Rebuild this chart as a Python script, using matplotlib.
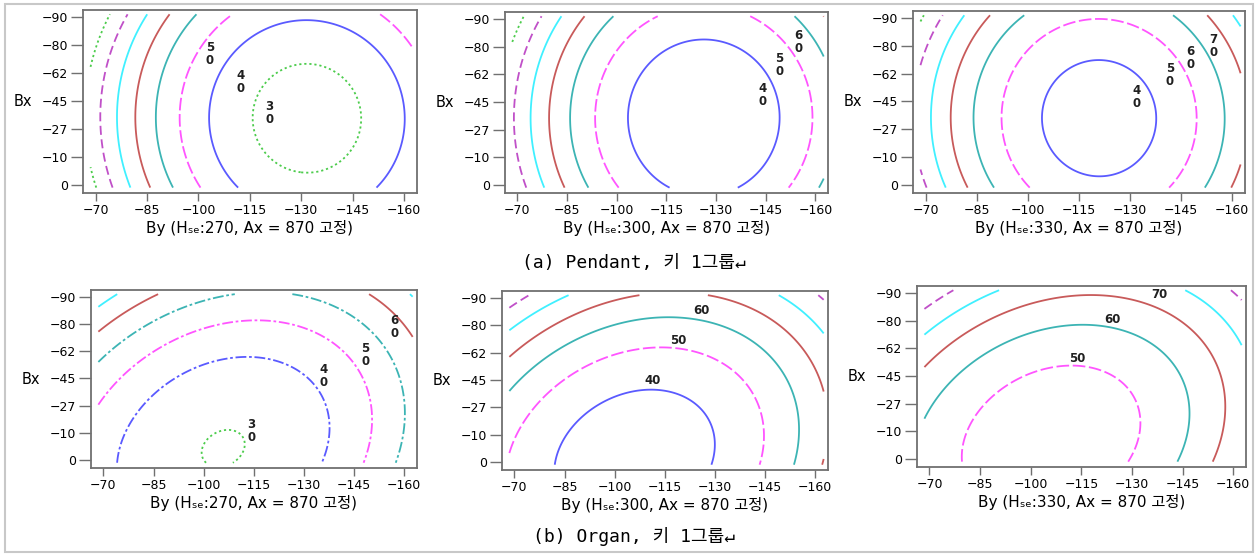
import numpy as np
import matplotlib
matplotlib.use("Agg")
import matplotlib.pyplot as plt
from matplotlib.patches import Rectangle

# contour levels and how each one is drawn
levels = [30, 40, 50, 60, 70, 80, 90, 100]
level_colors = ['#4ccc4c', '#5a5aff', '#ff55ff', '#3cb4b4', '#c85a5a', '#40f0ff', '#c050c8', '#4ccc4c']
level_styles = [(0, (1.2, 1.6)), 'solid', (0, (7, 2)), 'solid', 'solid', 'solid', (0, (5, 2.5)), (0, (1.2, 1.6))]
dashdot = (0, (6, 1.5, 1.5, 1.5))

x_ticks = [-70, -85, -100, -115, -130, -145, -160]
y_ticks = [0, -15, -30, -45, -60, -75, -90]
y_tick_labels = ['0', '−10', '−27', '−45', '−62', '−80', '−90']

h_se = [270, 300, 330, 270, 300, 330]
captions = ['(a) Pendant, 키 1그룹↵', '(b) Organ, 키 1그룹↵']

# points: (level, By, Bx)
pendant_270 = [
    (30, -115.6, -38.3), (30, -147.5, -36.6), (30, -131.3, -65.4), (30, -130.3, -5.9),
    (40, -102.8, -40.1), (40, -160.2, -31.2), (40, -129.8, -88.6), (40, -111.2, 0.9),
    (40, -151.9, 0.9), (40, -110.2, -66.8),
    (50, -95.0, -40.1), (50, -100.4, 0.0), (50, -109.2, -90.9), (50, -153.3, -90.9), (50, -162.2, -74.9),
    (60, -87.6, -40.1), (60, -92.1, 0.9), (60, -99.4, -90.9),
    (70, -81.6, -40.1), (70, -85.7, 0.9), (70, -91.6, -90.9),
    (80, -75.9, -40.1), (80, -79.8, 0.9), (80, -84.2, -90.9),
    (90, -71.0, -40.1), (90, -74.9, 0.9), (90, -78.8, -90.9),
    (100, -68.5, -61.5), (100, -74.4, -90.9), (100, -69.0, -9.8), (100, -70.0, 0.9),
]
pendant_300 = [
    (40, -103.3, -34.9), (40, -148.8, -33.1), (40, -125.6, -78.9), (40, -114.2, 0.5),
    (40, -137.5, 0.5), (40, -110.8, -64.0),
    (50, -93.4, -36.7), (50, -158.7, -36.7), (50, -99.9, 0.5), (50, -152.3, 0.5),
    (50, -112.2, -91.3), (50, -140.4, -91.3), (50, -155.3, -73.1),
    (60, -86.0, -36.7), (60, -91.0, 0.5), (60, -98.4, -90.4), (60, -153.3, -90.4), (60, -161.2, -72.2),
    (70, -79.6, -36.7), (70, -84.0, 0.5), (70, -90.0, -91.3),
    (80, -74.2, -36.7), (80, -78.1, 0.5), (80, -83.1, -91.3),
    (90, -68.7, -42.2), (90, -72.7, 0.5), (90, -76.6, -89.5),
    (100, -68.7, -77.6), (100, -71.7, -90.4),
]
pendant_330 = [
    (40, -104.3, -35.3), (40, -138.1, -35.3), (40, -121.3, -67.1), (40, -121.3, -3.1),
    (40, -109.0, -55.1), (40, -132.5, -15.6),
    (50, -92.4, -35.3), (50, -149.7, -35.3), (50, -99.2, -0.4), (50, -142.8, -0.4),
    (50, -120.8, -90.0), (50, -103.1, -78.4), (50, -142.4, -73.0),
    (60, -84.0, -35.3), (60, -89.4, -0.4), (60, -98.7, -90.9), (60, -158.0, -35.3),
    (60, -152.2, -0.4), (60, -143.8, -90.0),
    (70, -77.5, -35.3), (70, -82.1, -0.4), (70, -88.9, -90.9), (70, -153.1, -90.0), (70, -160.5, -69.4),
    (80, -71.6, -35.3), (80, -75.5, -0.4), (80, -81.1, -90.9),
    (90, -68.8, -67.6), (90, -74.2, -89.1), (90, -69.3, -3.1),
    (100, -69.3, -90.9),
]
organ_270 = [
    (30, -99.7, -6.0), (30, -112.3, -9.6), (30, -107.0, -18.2), (30, -105.0, 0.9),
    (40, -74.0, 0.0), (40, -81.0, -27.8), (40, -91.0, -44.2), (40, -101.0, -53.3), (40, -113.0, -57.3),
    (40, -125.0, -53.3), (40, -134.0, -40.5), (40, -138.0, -22.4), (40, -135.5, 0.0),
    (50, -69.0, -32.4), (50, -79.0, -51.5), (50, -94.0, -68.7), (50, -116.0, -77.3),
    (50, -134.0, -67.8), (50, -145.0, -53.3), (50, -150.0, -27.8), (50, -147.8, 0.9),
    (60, -69.0, -55.1), (60, -89.0, -82.4), (60, -107.0, -90.9), (60, -129.0, -90.9),
    (60, -149.0, -67.8), (60, -159.0, -46.0), (60, -160.5, -27.8), (60, -157.5, 0.9),
    (70, -69.5, -71.5), (70, -86.0, -90.9), (70, -151.5, -89.6), (70, -161.5, -72.4),
    (80, -69.0, -85.1), (80, -74.0, -90.9),
]
organ_300 = [
    (40, -81.5, 0.0), (40, -129.7, 0.0), (40, -130.0, -10.0), (40, -113.1, -39.3),
    (40, -88.5, -15.7), (40, -97.3, -32.0), (40, -126.9, -28.3),
    (50, -69.7, -10.3), (50, -76.6, -32.0), (50, -86.5, -50.1), (50, -101.3, -60.0), (50, -113.1, -62.5),
    (50, -126.0, -59.1), (50, -136.8, -44.6), (50, -143.7, -28.3), (50, -145.2, -14.0), (50, -143.7, 0.5),
    (60, -69.7, -41.0), (60, -81.5, -62.8), (60, -101.3, -75.5), (60, -115.1, -80.0), (60, -130.9, -75.5),
    (60, -146.7, -53.8), (60, -154.6, -28.3), (60, -155.1, -14.0), (60, -153.6, 0.5),
    (70, -69.7, -58.3), (70, -83.5, -77.3), (70, -106.2, -90.9), (70, -129.9, -90.9),
    (70, -150.6, -73.7), (70, -161.5, -45.6),
    (80, -69.2, -72.8), (80, -86.0, -90.9), (80, -149.6, -90.9), (80, -161.5, -73.7),
    (90, -69.0, -85.5), (90, -74.6, -91.0),
]
organ_330 = [
    (50, -78.9, 0.0), (50, -82.4, -20.0), (50, -90.3, -36.4), (50, -102.2, -47.3), (50, -112.2, -50.0),
    (50, -124.1, -43.6), (50, -131.5, -27.3), (50, -132.5, -12.7), (50, -130.0, 0.0),
    (60, -69.0, -22.7), (60, -77.4, -43.6), (60, -90.3, -61.8), (60, -104.2, -70.0), (60, -115.6, -72.7),
    (60, -132.0, -65.5), (60, -141.9, -50.9), (60, -146.9, -25.5), (60, -143.9, 0.0),
    (70, -69.0, -50.0), (70, -82.4, -70.9), (70, -98.3, -84.5), (70, -114.1, -88.7), (70, -132.0, -85.5),
    (70, -146.9, -72.7), (70, -155.8, -52.7), (70, -157.8, -30.9), (70, -153.8, 0.0),
    (80, -69.0, -68.2), (80, -90.8, -91.3), (80, -145.4, -91.3), (80, -161.8, -64.5),
    (90, -69.0, -81.8), (90, -76.9, -91.3), (90, -159.3, -90.9), (90, -161.3, -88.2),
]
panels = [pendant_270, pendant_300, pendant_330, organ_270, organ_300, organ_330]

# level labels as they sit on each panel
panel_labels = [
    [('5\n0', -103.3, -70.4), ('4\n0', -112.4, -55.3), ('3\n0', -120.8, -38.3)],
    [('6\n0', -155.0, -77.6), ('5\n0', -149.1, -64.9), ('4\n0', -144.1, -49.0)],
    [('7\n0', -154.6, -75.1), ('6\n0', -147.9, -68.5), ('5\n0', -141.7, -59.5), ('4\n0', -132.1, -47.3)],
    [('6\n0', -157.0, -73.3), ('5\n0', -148.3, -57.8), ('4\n0', -136.0, -46.4), ('3\n0', -114.2, -16.0)],
    [('60', -126.0, -83.1), ('50', -119.1, -66.8), ('40', -111.2, -44.7)],
    [('70', -138.0, -89.1), ('60', -124.1, -75.5), ('50', -113.7, -54.2)],
]

# axes boxes in pixels (left, top, right, bottom)
boxes = [(83, 10, 417, 193), (505, 12, 828, 193), (913, 11, 1245, 193),
         (91, 290, 417, 468), (502, 291, 828, 470), (917, 286, 1246, 467)]

W, H = 1257, 554
font = ['DejaVu Sans', 'Noto Sans CJK KR']
frame_col = '#707070'


def fit_surface(points):
    pts = np.array(points, dtype=float)
    z, x, y = pts[:, 0], pts[:, 1] + 115, pts[:, 2] + 45
    A = np.column_stack([np.ones_like(x), x, y, x * x, y * y, x * y])
    return np.linalg.lstsq(A, z, rcond=None)[0]


gx = np.linspace(-68.5, -162.5, 260)
gy = np.linspace(1.5, -91.5, 260)
GX, GY = np.meshgrid(gx, gy)

fig = plt.figure(figsize=(W / 100, H / 100), dpi=100)
fig.patch.set_facecolor('white')

for i, pts in enumerate(panels):
    l, t, r, b = boxes[i]
    ax = fig.add_axes([l / W, 1 - b / H, (r - l) / W, (b - t) / H])
    c = fit_surface(pts)
    X, Y = GX + 115, GY + 45
    Z = c[0] + c[1] * X + c[2] * Y + c[3] * X * X + c[4] * Y * Y + c[5] * X * Y

    styles = list(level_styles)
    if i == 3:
        styles[1] = styles[2] = styles[3] = dashdot
    ax.contour(GX, GY, Z, levels=levels, colors=level_colors,
               linestyles=styles, linewidths=1.3)

    for txt, lx, ly in panel_labels[i]:
        ax.text(lx, ly, txt, ha='center', va='center', fontsize=8.5, fontweight='bold',
                linespacing=1.0, family=font, color='#202020')

    ax.set_xlim(-66.3, -163.8)
    ax.set_ylim(4.4, -93.8)
    ax.set_xticks(x_ticks)
    ax.set_yticks(y_ticks)
    ax.set_yticklabels(y_tick_labels)
    ax.tick_params(axis='y', direction='out', length=9, width=1, color=frame_col, pad=2, labelsize=9)
    ax.tick_params(axis='x', direction='out', length=6, width=1, color=frame_col, pad=2, labelsize=9)
    for lab in ax.get_xticklabels() + ax.get_yticklabels():
        lab.set_family(font)
    for sp in ax.spines.values():
        sp.set_color(frame_col)
        sp.set_linewidth(1.3)

    ax.set_xlabel('By (Hₛₑ:%d, Ax = 870 고정)' % h_se[i], family=font, fontsize=11, labelpad=2)
    ax.set_ylabel('Bx', family=font, fontsize=10.5, rotation=0, ha='right', va='center')
    ax.yaxis.set_label_coords(-51 / (r - l), 0.5)

cap_font = ['DejaVu Sans Mono', 'Noto Sans CJK KR', 'DejaVu Sans']
fig.text(634 / W, 1 - 263 / H, captions[0], ha='center', va='center', fontsize=13, family=cap_font)
fig.text(634 / W, 1 - 536 / H, captions[1], ha='center', va='center', fontsize=13, family=cap_font)

# light outer frame around the whole figure
fig.add_artist(Rectangle((5 / W, 1 - 552 / H), 1248 / W, 548 / H, transform=fig.transFigure,
                         fill=False, edgecolor='#c8c8c8', linewidth=1.5))

fig.savefig('out.png', dpi=100)
